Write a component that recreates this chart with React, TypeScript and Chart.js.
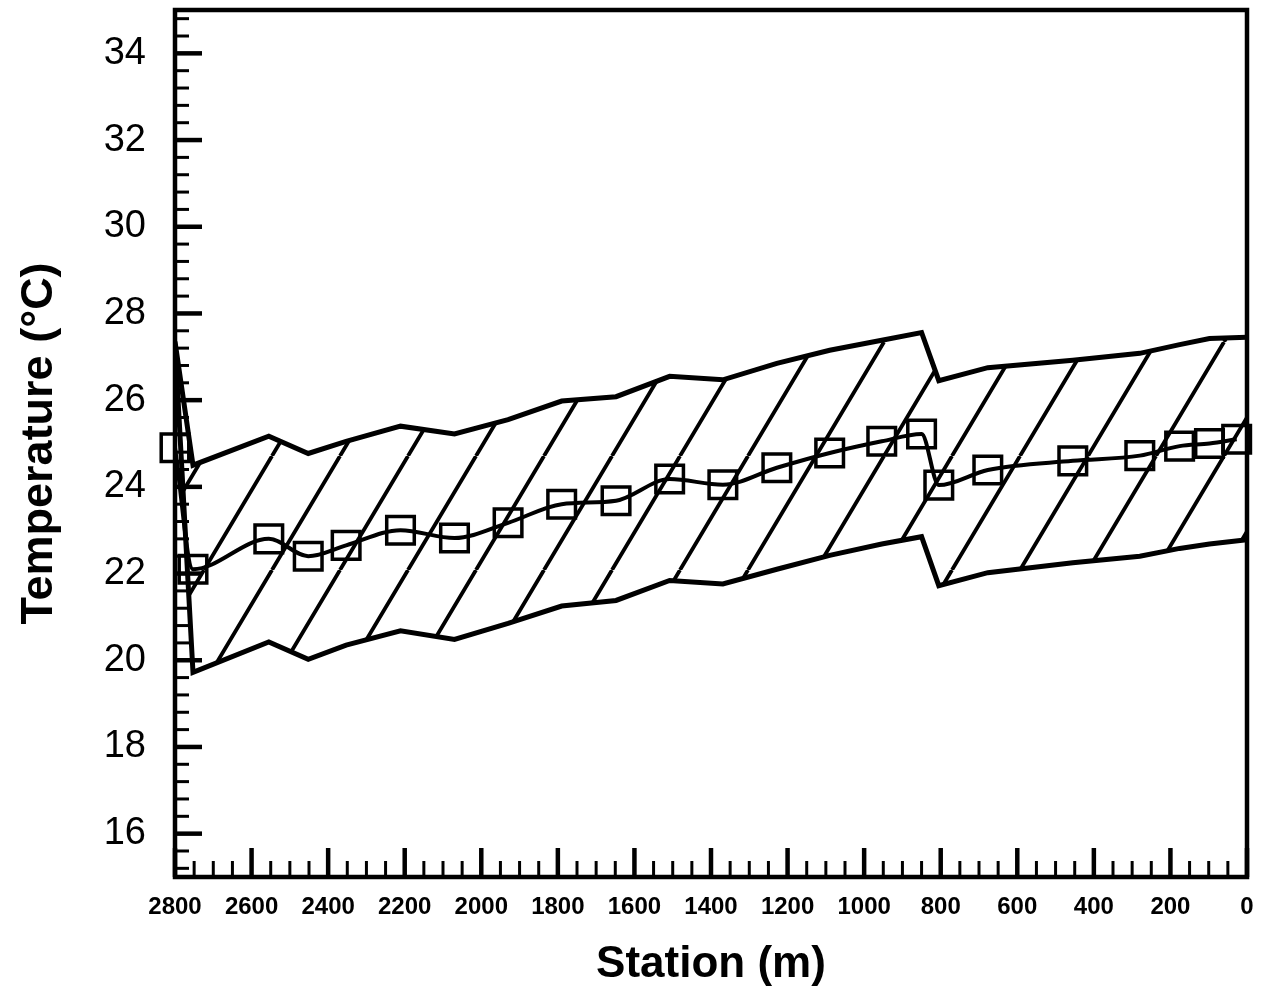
import React, { useEffect, useRef } from "react";
import { Chart, registerables } from "chart.js";

Chart.register(...registerables);

// Station positions (m) of the measured points
const stations = [2800, 2753, 2555, 2452, 2353, 2211, 2070, 1930, 1790, 1648, 1508, 1369, 1228, 1090, 954, 850, 805, 677, 455, 280, 176, 98, 27];
// Mean temperature (°C)
const meanTemp = [24.9, 22.1, 22.8, 22.4, 22.65, 23.0, 22.82, 23.17, 23.6, 23.68, 24.18, 24.05, 24.44, 24.78, 25.05, 25.22, 24.04, 24.39, 24.6, 24.72, 24.94, 25.0, 25.1];

// Envelope (range) stations and bounds
const boundStations = [2800, 2753, 2555, 2452, 2353, 2211, 2070, 1930, 1790, 1648, 1508, 1369, 1228, 1090, 954, 850, 805, 677, 455, 280, 176, 98, 0];
const upperTemp = [27.35, 24.5, 25.17, 24.77, 25.05, 25.4, 25.22, 25.55, 25.98, 26.08, 26.55, 26.47, 26.85, 27.15, 27.38, 27.56, 26.45, 26.75, 26.92, 27.08, 27.28, 27.42, 27.45];
const lowerTemp = [27.3, 19.72, 20.42, 20.02, 20.35, 20.68, 20.48, 20.85, 21.25, 21.38, 21.84, 21.76, 22.1, 22.42, 22.68, 22.85, 21.72, 22.02, 22.25, 22.4, 22.58, 22.68, 22.78];

const xTickLabels = [2800, 2600, 2400, 2200, 2000, 1800, 1600, 1400, 1200, 1000, 800, 600, 400, 200, 0];
const yTickLabels = [16, 18, 20, 22, 24, 26, 28, 30, 32, 34];

const FONT = "Liberation Sans, Arial, sans-serif";

function makeHatch(): CanvasPattern | string {
  const W = 68, H = 114;
  const tile = document.createElement("canvas");
  tile.width = W;
  tile.height = H;
  const c = tile.getContext("2d");
  if (!c) return "rgba(0,0,0,0)";
  c.strokeStyle = "#000";
  c.lineWidth = 3.8;
  c.beginPath();
  for (let k = -1; k <= 1; k++) {
    c.moveTo(k * W, H);
    c.lineTo(k * W + W, 0);
  }
  c.stroke();
  const p = c.createPattern(tile, "repeat");
  return p || "rgba(0,0,0,0)";
}

const frameAndTicks = {
  id: "frameAndTicks",
  afterDraw(chart: any) {
    const { ctx, chartArea } = chart;
    const xs = chart.scales.x;
    const ys = chart.scales.y;
    ctx.save();
    ctx.strokeStyle = "#000";
    ctx.lineCap = "butt";
    // y ticks (inside)
    for (let k = -2; k <= 47; k++) {
      const v = 16 + 0.4 * k;
      const py = ys.getPixelForValue(v);
      const major = k % 5 === 0;
      ctx.lineWidth = major ? 4.5 : 3;
      ctx.beginPath();
      ctx.moveTo(chartArea.left, py);
      ctx.lineTo(chartArea.left + (major ? 27 : 14), py);
      ctx.stroke();
    }
    // x ticks (inside, pointing up)
    for (let k = 0; k <= 56; k++) {
      const v = 50 * k;
      const px = xs.getPixelForValue(v);
      const major = k % 4 === 0;
      ctx.lineWidth = major ? 4.5 : 3;
      ctx.beginPath();
      ctx.moveTo(px, chartArea.bottom);
      ctx.lineTo(px, chartArea.bottom - (major ? 29 : 16));
      ctx.stroke();
    }
    // frame
    ctx.lineWidth = 4.5;
    ctx.strokeRect(chartArea.left, chartArea.top, chartArea.right - chartArea.left, chartArea.bottom - chartArea.top);
    ctx.restore();
  },
};

export default function App() {
  const ref = useRef<HTMLCanvasElement | null>(null);

  useEffect(() => {
    document.body.style.margin = "0";
    const canvas = ref.current;
    if (!canvas) return;
    const hatch = makeHatch();

    const chart = new Chart(canvas, {
      type: "line",
      data: {
        datasets: [
          {
            label: "Mean",
            data: stations.map((s, i) => ({ x: s, y: meanTemp[i] })),
            borderColor: "#000",
            borderWidth: 4,
            cubicInterpolationMode: "monotone",
            pointStyle: "rect",
            pointRadius: 19.5,
            pointBorderWidth: 3.5,
            pointBorderColor: "#000",
            pointBackgroundColor: "rgba(0,0,0,0)",
            fill: false,
            clip: false,
            order: 0,
          },
          {
            label: "Upper",
            data: boundStations.map((s, i) => ({ x: s, y: upperTemp[i] })),
            borderColor: "#000",
            borderWidth: 5,
            tension: 0,
            pointRadius: 0,
            backgroundColor: hatch as any,
            fill: "+1",
            order: 1,
          },
          {
            label: "Lower",
            data: boundStations.map((s, i) => ({ x: s, y: lowerTemp[i] })),
            borderColor: "#000",
            borderWidth: 5,
            tension: 0,
            pointRadius: 0,
            fill: false,
            order: 2,
          },
        ],
      },
      options: {
        animation: false,
        responsive: false,
        maintainAspectRatio: false,
        layout: { autoPadding: false, padding: { left: 10, right: 14, top: 10, bottom: 0 } },
        plugins: {
          legend: { display: false },
          tooltip: { enabled: false },
        },
        scales: {
          x: {
            type: "linear",
            reverse: true,
            min: 0,
            max: 2800,
            afterBuildTicks: (s: any) => {
              s.ticks = xTickLabels.map((v) => ({ value: v }));
            },
            afterFit: (s: any) => {
              s.height = 116;
              s.paddingLeft = 0;
              s.paddingRight = 0;
            },
            grid: { display: false, drawTicks: false },
            border: { display: false },
            ticks: {
              padding: 16,
              color: "#000",
              maxRotation: 0,
              autoSkip: false,
              callback: (v: any) => String(v),
              font: { family: FONT, size: 24, weight: "bold" },
            },
            title: {
              display: true,
              text: "Station (m)",
              color: "#000",
              padding: { top: 0, bottom: 2 },
              font: { family: FONT, size: 44, weight: "bold" },
            },
          },
          y: {
            type: "linear",
            min: 15,
            max: 35,
            afterBuildTicks: (s: any) => {
              s.ticks = yTickLabels.map((v) => ({ value: v }));
            },
            afterFit: (s: any) => {
              s.width = 165;
              s.paddingTop = 0;
              s.paddingBottom = 0;
            },
            grid: { display: false, drawTicks: false },
            border: { display: false },
            ticks: {
              padding: 29,
              color: "#000",
              autoSkip: false,
              callback: (v: any) => String(v),
              font: { family: FONT, size: 38 },
            },
            title: {
              display: true,
              text: "Temperature (°C)",
              color: "#000",
              padding: { top: 3, bottom: 0 },
              font: { family: FONT, size: 45, weight: "bold" },
            },
          },
        },
      },
      plugins: [frameAndTicks],
    } as any);

    return () => {
      chart.destroy();
    };
  }, []);

  return (
    <div style={{ width: 1261, height: 993, background: "#fff" }}>
      <canvas ref={ref} width={1261} height={993} style={{ display: "block", width: 1261, height: 993 }} />
    </div>
  );
}
